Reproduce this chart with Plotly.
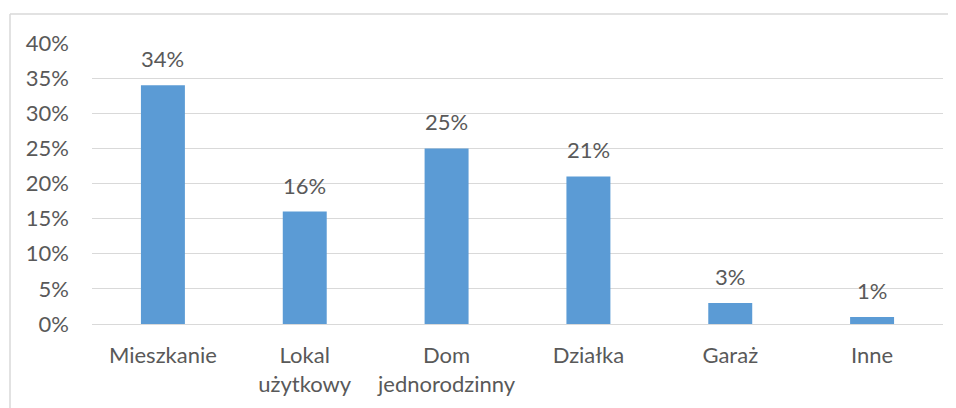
import plotly.graph_objects as go

categories = ["Mieszkanie", "Lokal<br>użytkowy", "Dom<br>jednorodzinny", "Działka", "Garaż", "Inne"]
values = [0.34, 0.16, 0.25, 0.21, 0.03, 0.01]
value_labels = ["34%", "16%", "25%", "21%", "3%", "1%"]
y_ticks = [0, 0.05, 0.10, 0.15, 0.20, 0.25, 0.30, 0.35, 0.40]
y_tick_labels = ["0%", "5%", "10%", "15%", "20%", "25%", "30%", "35%", "40%"]

FONT = "Lato"
FS = 22
TXT = "#595959"

fig = go.Figure(go.Bar(
    x=categories, y=values,
    marker=dict(color="#5B9BD5", line=dict(width=0)),
    width=0.31, hoverinfo="skip",
))

annotations = [
    dict(x=c, y=v, text=t, xref="x", yref="y", showarrow=False,
         yanchor="bottom", yshift=11, font=dict(family=FONT, size=FS, color=TXT))
    for c, v, t in zip(categories, values, value_labels)
]

fig.update_layout(
    width=948, height=400,
    margin=dict(l=84, r=13, t=35, b=84),
    paper_bgcolor="white", plot_bgcolor="white",
    showlegend=False,
    font=dict(family=FONT, size=FS, color=TXT),
    xaxis=dict(showgrid=False, showline=True, linecolor="#d9d9d9", linewidth=1,
               ticks="", tickfont=dict(family=FONT, size=FS, color=TXT),
               ticklabelstandoff=12),
    yaxis=dict(range=[0, 0.4], tickvals=y_ticks, ticktext=y_tick_labels,
               showgrid=True, gridcolor="#d9d9d9", gridwidth=1,
               zeroline=False, showline=False, ticks="",
               tickfont=dict(family=FONT, size=FS, color=TXT),
               ticklabelstandoff=22),
    annotations=annotations,
    shapes=[
        dict(type="line", xref="paper", yref="paper",
             x0=-82/851, x1=1+13/851, y0=1+29/281, y1=1+29/281,
             line=dict(color="#d9d9d9", width=1.5)),
        dict(type="line", xref="paper", yref="paper",
             x0=-82/851, x1=-82/851, y0=-84/281, y1=1+29/281,
             line=dict(color="#d9d9d9", width=1.5)),
    ],
)

fig.write_html("out.html")
